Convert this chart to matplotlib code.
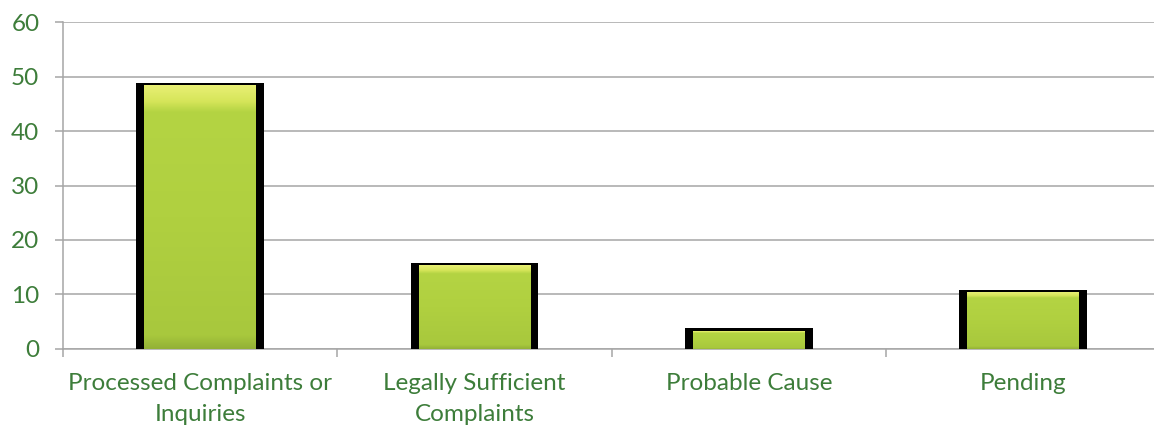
import numpy as np
import matplotlib.pyplot as plt
from matplotlib.colors import LinearSegmentedColormap

categories = ['Processed Complaints or\nInquiries', 'Legally Sufficient\nComplaints',
              'Probable Cause', 'Pending']
values = [48, 15, 3, 10]
yticks = [0, 10, 20, 30, 40, 50, 60]

label_color = '#3d7d3a'
grid_color = '#a6a6a6'

plt.rcParams['font.family'] = ['Lato', 'DejaVu Sans']

fig = plt.figure(figsize=(11.54, 4.30), dpi=100)
ax = fig.add_axes([0.0546, 0.1884, 0.951, 0.7604])

x = np.arange(len(values))

# black shadow / outline behind each bar
ax.bar(x, [v + 1.15 for v in values], width=0.466, bottom=-0.35,
       color='black', zorder=3)

# green bevelled face: vertical gradient drawn inside each bar
bevel = LinearSegmentedColormap.from_list(
    'bevel', [(0.0, '#93b136'), (0.05, '#a8c83d'), (0.5, '#b0d040'),
              (0.9, '#b4d443'), (0.94, '#d6e55a'), (1.0, '#e8ef74')])
grad = np.linspace(0, 1, 256).reshape(-1, 1)
for xi, v in zip(x, values):
    ax.imshow(grad, cmap=bevel, origin='lower', aspect='auto',
              extent=(xi - 0.204, xi + 0.204, 0, v + 0.3), zorder=4,
              interpolation='bilinear')

ax.set_xlim(-0.5, len(values) - 0.5)
ax.set_ylim(0, 60)
ax.set_yticks(yticks)
ax.set_xticks(x)
ax.set_xticklabels(categories)
ax.set_xticks(np.arange(len(values) + 1) - 0.5, minor=True)

ax.yaxis.grid(True, color=grid_color, linewidth=1.1)
ax.set_axisbelow(True)
for s in ['top', 'right']:
    ax.spines[s].set_visible(False)
for s in ['left', 'bottom']:
    ax.spines[s].set_color(grid_color)
    ax.spines[s].set_linewidth(1.1)

ax.tick_params(axis='y', colors=grid_color, length=6, width=1.1, pad=11,
               labelcolor=label_color, labelsize=17.5)
ax.tick_params(axis='x', which='major', length=0, pad=17,
               labelcolor=label_color, labelsize=17.5)
ax.tick_params(axis='x', which='minor', colors=grid_color, length=6, width=1.1)
for lbl in ax.get_xticklabels():
    lbl.set_linespacing(1.6)

fig.savefig('out.png', dpi=100)
